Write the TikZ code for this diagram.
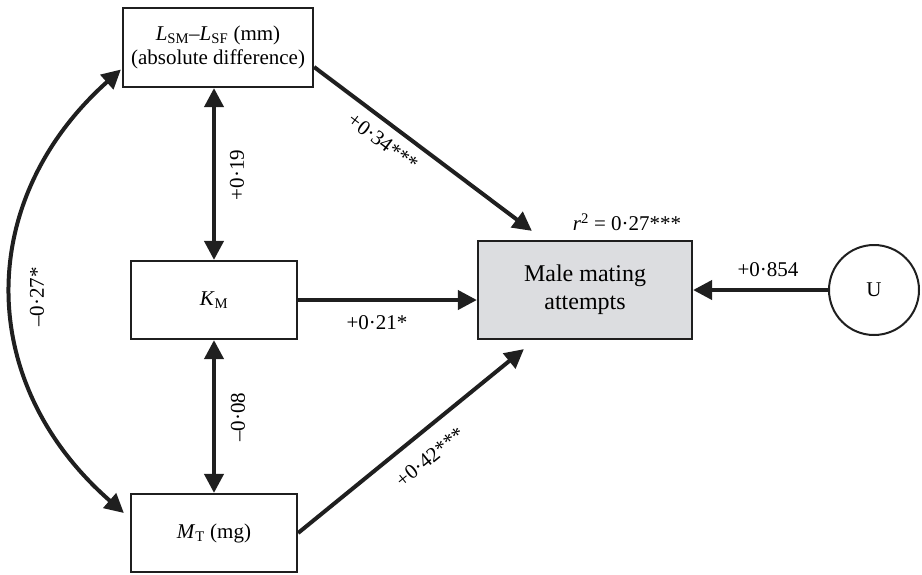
\documentclass[tikz,border=0pt]{standalone}
\usepackage{fontspec}
\setmainfont{Liberation Serif}
\usetikzlibrary{arrows.meta,calc}
\definecolor{boxgray}{RGB}{220,221,224}
\begin{document}
\begin{tikzpicture}[x=1pt,y=-1pt,
  box/.style={draw=black!88, line width=2.2pt, inner sep=0pt, align=center,
              font=\fontsize{21}{24}\selectfont},
  arr/.style={draw=black!88, line width=4pt, -{Triangle[length=19pt,width=19pt]}},
  darr/.style={draw=black!88, line width=4pt,
               {Triangle[length=19pt,width=19pt]}-{Triangle[length=19pt,width=19pt]}},
  lab/.style={font=\fontsize{21}{24}\selectfont, inner sep=0pt}]
\useasboundingbox (0,0) rectangle (922,574);

\node[box, minimum width=190pt, minimum height=79pt] (top) at (218,47.5)
  {\textit{L}\textsubscript{SM}–\textit{L}\textsubscript{SF} (mm)\\(absolute difference)};
\node[box, minimum width=166pt, minimum height=78pt] (km) at (214,300)
  {\textit{K}\textsubscript{M}};
\node[box, minimum width=166pt, minimum height=78pt] (mt) at (214,533)
  {\textit{M}\textsubscript{T} (mg)};
\node[box, fill=boxgray, minimum width=214pt, minimum height=98pt,
      font=\fontsize{24}{28}\selectfont] (male) at (585,290)
  {Male mating\\attempts};
\node[draw=black!88, line width=2pt, circle, minimum size=90pt, inner sep=0pt,
      font=\fontsize{21}{24}\selectfont] (U) at (874,290) {U};

\coordinate (topout) at ($(top.east)+(0,19.5)$);
\coordinate (maletop) at ($(male.north west)+(55,-9)$);
\coordinate (malebot) at ($(male.south west)+(47,9)$);
\coordinate (arcA) at ($(top.west)+(-1,22)$);
\coordinate (arcB) at ($(mt.west)+(-6,-20)$);

\draw[darr] (km.north) -- (km.north |- top.south);
\draw[darr] (km.south) -- (mt.north);
\draw[arr] (km.east) -- (km.east -| male.west);
\draw[arr] (U.west) -- (male.east);
\draw[arr] (topout) -- (maletop);
\draw[arr] (mt.east) -- (malebot);
\draw[darr] (arcA) .. controls (-25,200) and (-25,383) .. (arcB);

\node[lab, rotate=90] (l19) at (237,175) {+0·19};
\node[lab, rotate=90] (l08) at (238,417) {–0·08};
\node[lab, rotate=90] (l27) at (37,297) {–0·27*};
\node[lab, rotate=-37] (l34) at (383,142) {+0·34***};
\node[lab, rotate=39] (l42) at (430,457) {+0·42***};
\node[lab] (l21) at (377,323) {+0·21*};
\node[lab] (l854) at (768,270) {+0·854};
\node[lab] (lr2) at (627,222) {\textit{r}\textsuperscript{2} = 0·27***};
\end{tikzpicture}
\end{document}
